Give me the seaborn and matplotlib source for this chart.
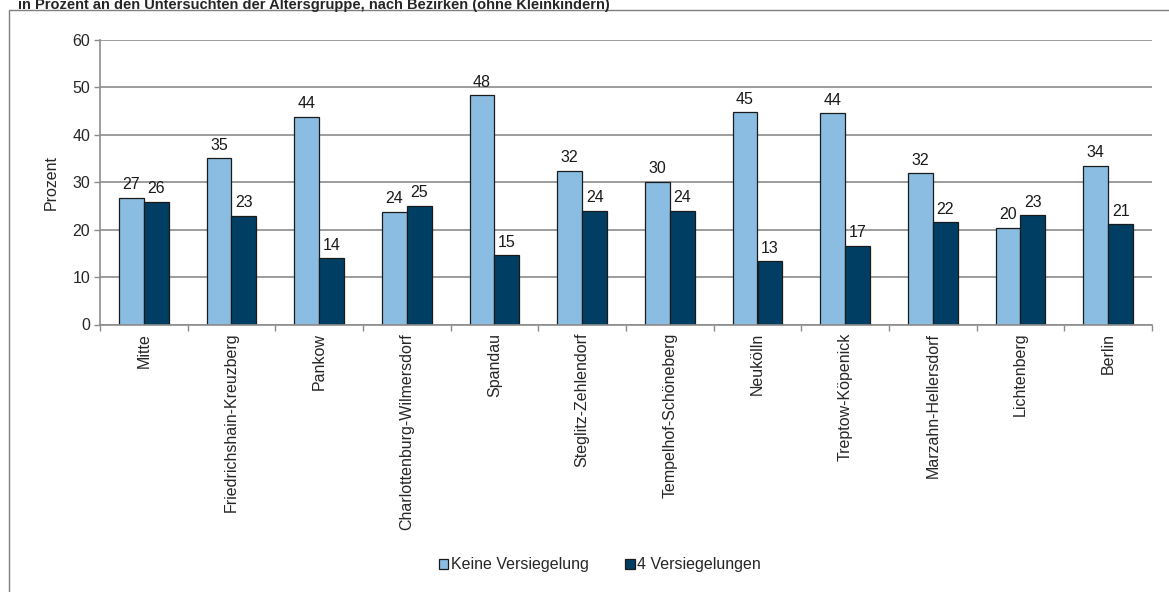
import pandas as pd
import numpy as np
import matplotlib
matplotlib.use("Agg")
import matplotlib.pyplot as plt
import seaborn as sns
from matplotlib.patches import Rectangle, Patch

# Data
bezirke = ["Mitte", "Friedrichshain-Kreuzberg", "Pankow", "Charlottenburg-Wilmersdorf",
           "Spandau", "Steglitz-Zehlendorf", "Tempelhof-Schöneberg", "Neukölln",
           "Treptow-Köpenick", "Marzahn-Hellersdorf", "Lichtenberg", "Berlin"]
keine = [26.7, 35.1, 43.8, 23.8, 48.3, 32.4, 30.1, 44.8, 44.5, 31.9, 20.4, 33.5]
vier = [25.9, 22.9, 14.0, 25.0, 14.6, 24.0, 24.0, 13.3, 16.6, 21.6, 23.0, 21.1]
gruppen = ["Keine Versiegelung", "4 Versiegelungen"]
title = "in Prozent an den Untersuchten der Altersgruppe, nach Bezirken (ohne Kleinkindern)"

df = pd.DataFrame({
    "Bezirk": bezirke * 2,
    "Prozent": keine + vier,
    "Gruppe": [gruppen[0]] * len(bezirke) + [gruppen[1]] * len(bezirke),
})

sns.set_style("white")
plt.rcParams["font.family"] = ["Liberation Sans", "DejaVu Sans"]

colors = ["#8BBDE3", "#003F63"]
grid_col = "#8C8C8C"
fs = 11.5

fig = plt.figure(figsize=(11.69, 5.92), dpi=100)
ax = fig.add_axes([100 / 1169, 1 - 324.5 / 592, 1052 / 1169, 284.5 / 592])

sns.barplot(data=df, x="Bezirk", y="Prozent", hue="Gruppe", palette=colors, saturation=1,
            width=0.57, edgecolor="#1A1A1A", linewidth=0.9, ax=ax, legend=False)

for cont in ax.containers:
    ax.bar_label(cont, labels=[f"{b.get_height():.0f}" for b in cont],
                 padding=4, fontsize=fs, color="#1A1A1A")

ax.set_ylim(0, 60)
ax.set_yticks(range(0, 61, 10))
ax.set_xlim(-0.5, len(bezirke) - 0.5)
ax.yaxis.grid(True, color=grid_col, linewidth=1.2)
ax.set_axisbelow(True)

# ticks between categories on x, labels at centres
ax.set_xticks(np.arange(-0.5, len(bezirke), 1.0))
ax.set_xticklabels([])
ax.set_xticks(np.arange(len(bezirke)), minor=True)
ax.set_xticklabels(bezirke, minor=True, rotation=90, fontsize=fs, va="top")
ax.tick_params(axis="x", which="major", length=4, color=grid_col, width=1, direction="out", bottom=True)
ax.tick_params(axis="x", which="minor", length=0, pad=6)
ax.tick_params(axis="y", length=4, color=grid_col, width=1, direction="out", left=True, labelsize=fs, pad=3)

ax.set_xlabel("")
ax.set_ylabel("Prozent", fontsize=fs, labelpad=10)

for side in ["top", "right"]:
    ax.spines[side].set_visible(False)
for side in ["left", "bottom"]:
    ax.spines[side].set_color(grid_col)
    ax.spines[side].set_linewidth(1.2)

handles = [Patch(facecolor=c, edgecolor="#1A1A1A", linewidth=0.9) for c in colors]
fig.legend(handles, gruppen, loc="center", bbox_to_anchor=(600 / 1169, 1 - 565 / 592),
           ncol=2, frameon=False, fontsize=fs, handlelength=0.6, handleheight=0.6,
           handletextpad=0.15, columnspacing=2.3)

# outer chart frame (cut off on the right and bottom)
fig.patches.append(Rectangle((9 / 1169, -0.2), 1.2, 1 - 10 / 592 + 0.2,
                             transform=fig.transFigure, fill=False,
                             edgecolor="#7F7F7F", linewidth=1.0))

fig.text(18 / 1169, 1 - 9 / 592, title, fontsize=10.5, fontweight="bold",
         ha="left", va="baseline")

fig.savefig("out.png", dpi=100)
